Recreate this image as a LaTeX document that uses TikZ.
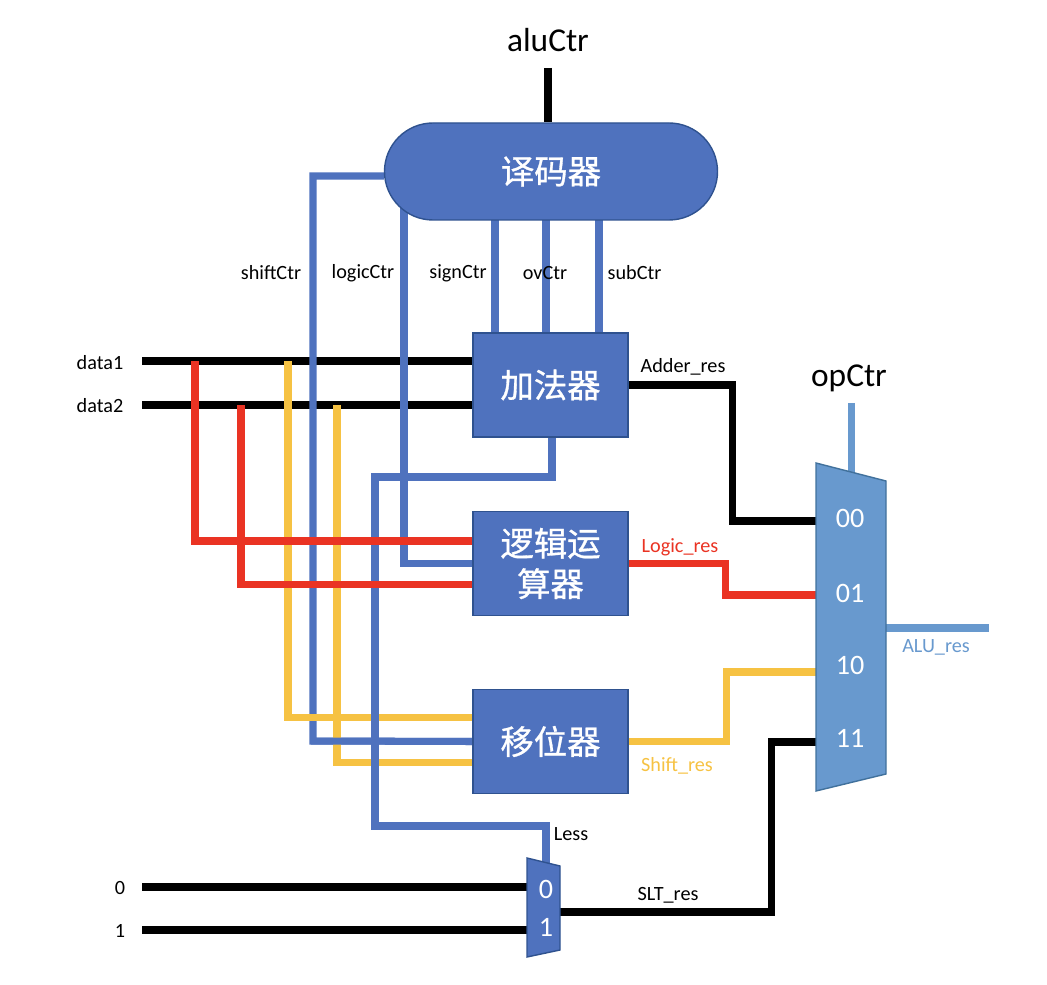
\documentclass[tikz,border=0pt]{standalone}
\usepackage{fontspec}
\setmainfont{Carlito}
\newfontfamily\cjk[FakeBold=0.9]{Noto Sans CJK SC}
\usepackage{xcolor}
\usepackage{tikz}
\usetikzlibrary{positioning}

\definecolor{boxblue}{RGB}{79,114,190}
\definecolor{boxedge}{RGB}{47,82,143}
\definecolor{muxblue}{RGB}{104,153,206}
\definecolor{muxedge}{RGB}{65,113,156}
\definecolor{wirered}{RGB}{234,51,35}
\definecolor{wireyellow}{RGB}{246,194,67}

\pgfdeclarelayer{bg}
\pgfsetlayers{bg,main}

\begin{document}
\begin{tikzpicture}[
    lbl/.style={font=\fontsize{11.5}{13}\selectfont, inner sep=0pt},
    big_lbl/.style={font=\fontsize{19}{22}\selectfont, inner sep=0pt},
    unit_box/.style={draw=boxedge, fill=boxblue, line width=0.8pt, minimum width=3.1cm,
      minimum height=2.08cm, text=white, font=\cjk\fontsize{19}{23}\selectfont, align=center, inner sep=0pt},
    big_mux/.style={draw=muxedge, fill=muxblue, line width=0.8pt},
    small_mux/.style={draw=boxedge, fill=boxblue, line width=0.8pt},
    mux_lbl/.style={text=white, font=\fontsize{16}{18}\selectfont, inner sep=0pt},
    black_wire/.style={black, line width=4pt},
    blue_wire/.style={boxblue, line width=4pt},
    red_wire/.style={wirered, line width=4pt},
    yellow_wire/.style={wireyellow, line width=4pt},
    op_wire/.style={muxblue, line width=4pt}
  ]
  \useasboundingbox (0,0) rectangle (20.94,-19.70);

  % 1. Avkodaren och de tre raknande enheterna
  \node[unit_box, rounded corners=0.97cm, minimum width=6.66cm, minimum height=1.94cm] (dec) at (11.02,-3.43) {译码器};
  \node[unit_box] (adder) at (11.01,-7.70) {加法器};
  \node[unit_box] (logic) at (11.01,-11.27) {逻辑运\\算器};
  \node[unit_box] (shifter) at (11.01,-14.83) {移位器};

  % 2. Multiplexorerna
  \draw[big_mux] (16.32,-9.26) coordinate (mux_nw) -- (17.72,-9.62) coordinate (mux_ne)
    -- (17.72,-15.48) -- (16.32,-15.82) -- cycle;
  \draw[small_mux] (10.54,-17.16) -- (11.20,-17.32) -- (11.20,-19.00) -- (10.54,-19.14) -- cycle;

  \coordinate (in00) at (16.32,-10.42);
  \coordinate (in01) at (16.32,-11.90);
  \coordinate (in10) at (16.32,-13.44);
  \coordinate (in11) at (16.32,-14.84);
  \coordinate (op_sel) at (17.02,-9.44);
  \coordinate (alu_out) at (17.72,-12.56);
  \coordinate (slt_sel) at (10.92,-17.25);
  \coordinate (slt_out) at (11.20,-18.24);

  \node[mux_lbl] (l00) at (17.00,-10.36) {00};
  \node[mux_lbl] (l01) at (17.00,-11.86) {01};
  \node[mux_lbl] (l10) at (17.00,-13.30) {10};
  \node[mux_lbl] (l11) at (17.00,-14.76) {11};
  \node[mux_lbl] (s0) at (10.92,-17.78) {0};
  \node[mux_lbl] (s1) at (10.92,-18.54) {1};

  % 3. Texter
  \node[big_lbl] (alu_ctr) at (10.96,-0.80) {aluCtr};
  \node[big_lbl] (op_ctr) at (16.98,-7.56) {opCtr};
  \node[lbl] (shift_ctr) at (5.42,-5.46) {shiftCtr};
  \node[lbl] (logic_ctr) at (7.26,-5.46) {logicCtr};
  \node[lbl] (sign_ctr) at (9.16,-5.46) {signCtr};
  \node[lbl] (ov_ctr) at (10.90,-5.46) {ovCtr};
  \node[lbl] (sub_ctr) at (12.69,-5.46) {subCtr};
  \node[lbl] (data1) at (2.00,-7.26) {data1};
  \node[lbl] (data2) at (2.00,-8.12) {data2};
  \node[lbl] (zero) at (2.40,-17.76) {0};
  \node[lbl] (one) at (2.40,-18.62) {1};
  \node[lbl] (adder_res) at (13.66,-7.34) {Adder\_res};
  \node[lbl, text=wirered] (logic_res) at (13.60,-10.94) {Logic\_res};
  \node[lbl, text=wireyellow] (shift_res) at (13.54,-15.32) {Shift\_res};
  \node[lbl, text=muxblue] (alu_res) at (18.72,-12.94) {ALU\_res};
  \node[lbl] (slt_res) at (13.36,-17.90) {SLT\_res};
  \node[lbl] (less) at (11.42,-16.68) {Less};

  % 4. Ledningar, under blocken
  \begin{pgfonlayer}{bg}
    \coordinate (d1) at (2.84,-7.22);
    \coordinate (d2) at (2.84,-8.10);
    \coordinate (c0) at (2.84,-17.74);
    \coordinate (c1) at (2.84,-18.60);
    \coordinate (alu_in) at (10.96,-1.36);
    \coordinate (shift_turn) at (6.26,-14.82);

    \draw[black_wire] (alu_in) -- (alu_in |- dec.north);
    \draw[black_wire] (d1) -- (d1 -| adder.west);
    \draw[black_wire] (d2) -- (d2 -| adder.west);
    \draw[black_wire] (c0) -- (c0 -| 10.54,0);
    \draw[black_wire] (c1) -- (c1 -| 10.54,0);
    \draw[black_wire] (adder.east) -| (14.64,-10.42) -- (in00);
    \draw[black_wire] (slt_out) -| (15.42,-14.84) -- (in11);

    % styrsignaler
    \draw[blue_wire] ([yshift=-0.09cm]dec.west) -| (shift_turn) -- (shifter.west);
    \draw[blue_wire] (8.08,-3.60) |- (logic.west);
    \foreach \x in {9.90,10.92,11.98}
      \draw[blue_wire] (\x,-3.43) -- (adder.north -| \x,0);

    \draw[yellow_wire] (5.76,-7.22) |- ([yshift=0.48cm]shifter.west);
    \draw[yellow_wire] (6.74,-8.10) |- ([yshift=-0.42cm]shifter.west);
    \draw[yellow_wire] (shifter.east) -| (14.52,-13.44) -- (in10);
    \draw[blue_wire] ([xshift=-0.04cm]shift_turn) -- (shifter.west);

    \draw[blue_wire] ([xshift=0.03cm]adder.south) |- (7.50,-9.54) |- (10.92,-16.52) -- (slt_sel);

    \draw[red_wire] (3.90,-7.22) |- ([yshift=0.45cm]logic.west);
    \draw[red_wire] (4.82,-8.10) |- ([yshift=-0.42cm]logic.west);
    \draw[red_wire] (logic.east) -| (14.50,-11.90) -- (in01);

    \draw[op_wire] (17.02,-8.06) -- (op_sel);
    \draw[op_wire] (alu_out) -- (19.78,-12.56);
  \end{pgfonlayer}

\end{tikzpicture}
\end{document}
